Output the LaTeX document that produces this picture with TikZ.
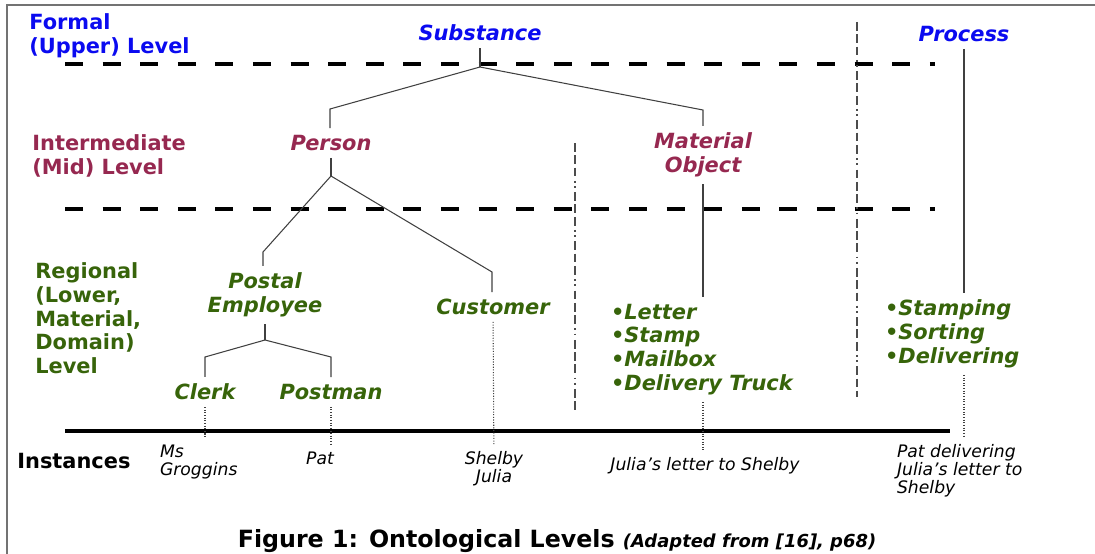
\documentclass[tikz,border=0pt]{standalone}
\usepackage{fontspec}
\setmainfont{DejaVu Sans}[
  BoldFont={DejaVu Sans Bold},
  ItalicFont={DejaVu Sans Oblique},
  BoldItalicFont={DejaVu Sans Bold Oblique}]
\definecolor{formal}{RGB}{10,10,240}
\definecolor{mid}{RGB}{150,40,80}
\definecolor{regional}{RGB}{55,100,10}
\tikzset{
  level/.style={inner sep=0pt, align=left, font=\fontsize{11.9}{13.6}\selectfont\bfseries},
  cat/.style={inner sep=0pt, outer sep=4pt, align=center, font=\fontsize{11.9}{13.5}\selectfont\bfseries\itshape},
  inst/.style={inner sep=0pt, outer sep=4pt, align=left, font=\fontsize{9.8}{10.4}\selectfont\itshape},
  branch/.style={draw=black!75, line width=0.6pt},
  instline/.style={draw=black!75, line width=0.6pt, dash pattern=on 0.6pt off 0.9pt},
  levelline/.style={line width=2.3pt, dash pattern=on 10.2pt off 11.2pt},
  divider/.style={draw=black!70, line width=0.6pt, dash pattern=on 5pt off 2pt on 5pt off 2pt on 5pt off 2.5pt on 1pt off 2pt on 1pt off 2.5pt}
}
\begin{document}
\begin{tikzpicture}[x=0.02cm,y=-0.02cm]
  \useasboundingbox (0,0) rectangle (1095,554);
  \draw[black!55, line width=1.1pt] (7,554) -- (7,5) -- (1095,5);
  \draw
    (29,13) node[level, text=formal, anchor=north west] (upper) {Formal\\(Upper) Level}
    (32,134) node[level, text=mid, anchor=north west] (mid) {Intermediate\\(Mid) Level}
    (35,262) node[level, text=regional, anchor=north west] (lower) {Regional\\(Lower,\\Material,\\Domain)\\Level}
    (17,461) node[level, anchor=west] (instances) {Instances}
    (480,33) node[cat, text=formal] (substance) {Substance}
    (964,34) node[cat, text=formal] (process) {Process}
    (331,143) node[cat, text=mid] (person) {Person}
    (703,155) node[cat, text=mid] (matobj) {Material\\Object}
    (265,295) node[cat, text=regional] (postal) {Postal\\Employee}
    (493,307) node[cat, text=regional] (customer) {Customer}
    (205,392) node[cat, text=regional] (clerk) {Clerk}
    (331,392) node[cat, text=regional] (postman) {Postman}
    (604,297) node[cat, text=regional, align=left, anchor=north west] (objects) {•Letter\\•Stamp\\•Mailbox\\•Delivery Truck}
    (878,293) node[cat, text=regional, align=left, anchor=north west] (steps) {•Stamping\\•Sorting\\•Delivering}
    (153,438) node[inst, anchor=north west] (groggins) {Ms\\Groggins}
    (320,458) node[inst] (pat) {Pat}
    (494,469) node[inst, align=center] (shelby) {Shelby\\Julia}
    (705,466) node[inst] (letter) {Julia's letter to Shelby}
    (890,437) node[inst, anchor=north west] (delivery) {Pat delivering\\Julia's letter to\\Shelby};
  \node[anchor=base, font=\fontsize{13.5}{16}\selectfont\bfseries] (caption) at (557,547)
    {Figure 1: Ontological Levels {\fontsize{10.2}{12}\selectfont\itshape (Adapted from [16], p68)}};

  \coordinate (top) at (480,67);
  \coordinate (topL) at (330,109);
  \coordinate (topR) at (703,110);
  \coordinate (pj) at (331,176);
  \coordinate (pjL) at (263,252);
  \coordinate (pjR) at (492,272);
  \coordinate (ej) at (265,340);
  \coordinate (ejL) at (205,357);
  \coordinate (ejR) at (331,357);

  \draw[levelline] (65,64) -- (935,64);
  \draw[levelline] (65,209) -- (935,209);
  \draw[line width=2.8pt] (65,431) -- (950,431);
  \draw[divider] (575,143) -- (575,413);
  \draw[divider] (857,22) -- (857,397);

  \begin{scope}[branch]
    \draw (substance) to (top);
    \draw (top) to (topL) to (topL |- person.north);
    \draw (top) to (topR) to (matobj);
    \draw (person) to (pj);
    \draw (pj) to (pjL) to (pjL |- postal.north);
    \draw (pj) to (pjR) to (pjR |- customer.north);
    \draw (postal) to (ej);
    \draw (ej) to (ejL) to (clerk);
    \draw (ej) to (ejR) to (postman);
    \draw (matobj) to (matobj |- objects.north);
    \draw (process) to (process |- steps.north);
  \end{scope}
  \begin{scope}[instline]
    \draw (clerk) to (clerk |- groggins.north);
    \draw (postman) to (postman |- pat.north);
    \draw (customer) to (shelby);
    \draw (objects.south -| matobj) to (matobj |- letter.north);
    \draw (steps.south -| process) to (process |- delivery.north);
  \end{scope}
\end{tikzpicture}
\end{document}
